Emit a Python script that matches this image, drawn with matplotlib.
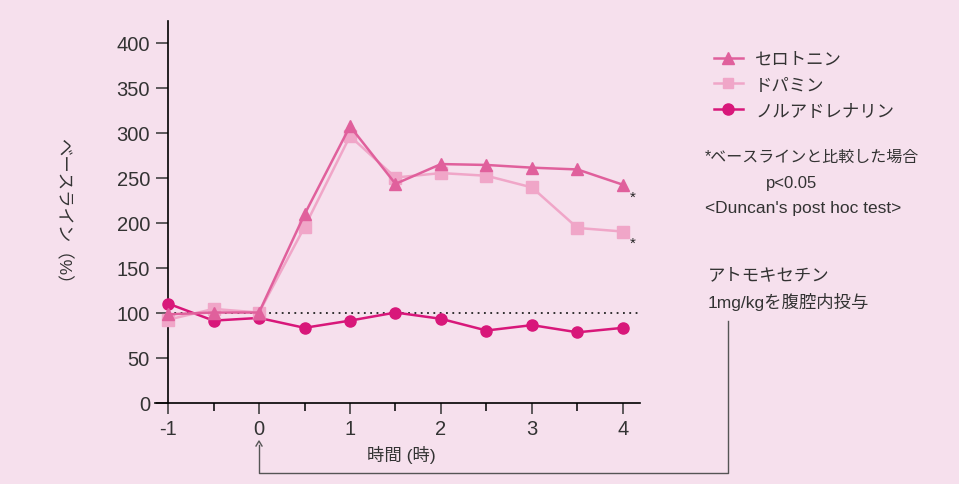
import numpy as np
import matplotlib.pyplot as plt
from matplotlib.lines import Line2D
from matplotlib.ticker import MultipleLocator

plt.rcParams['font.family'] = ['Liberation Sans', 'Noto Sans CJK JP']
plt.rcParams['axes.unicode_minus'] = False

# data
hours = [-1, -0.5, 0, 0.5, 1, 1.5, 2, 2.5, 3, 3.5, 4]
serotonin = [98, 100, 100, 209, 307, 243, 265, 264, 261, 259, 242]
dopamine = [92, 104, 100, 195, 296, 250, 255, 252, 239, 194, 190]
noradrenaline = [110, 91, 94, 83, 91, 100, 93, 80, 86, 78, 83]
labels = ['セロトニン', 'ドパミン', 'ノルアドレナリン']
yticks = [0, 50, 100, 150, 200, 250, 300, 350, 400]
xticks = [-1, 0, 1, 2, 3, 4]

bg = '#f6e0ed'
c_ser = '#e0609c'
c_dop = '#f0a6c8'
c_nor = '#d8177a'
txt = '#333333'

W, H = 959, 485
fig = plt.figure(figsize=(W / 100, H / 100), dpi=100, facecolor=bg)

def fx(px):
    return px / W

def fy(py):
    return 1 - py / H

ax = fig.add_axes([fx(155), fy(403.5), fx(640) - fx(155), fy(22) - fy(403.5)])
ax.set_facecolor(bg)
ax.set_xlim(-1.143, 4.187)
ax.set_ylim(0, 424)

for s in ['top', 'right']:
    ax.spines[s].set_visible(False)
ax.spines['left'].set_position(('data', -1))
ax.spines['left'].set_linewidth(1.2)
ax.spines['bottom'].set_linewidth(1.2)

ax.set_yticks(yticks)
ax.set_xticks(xticks)
ax.xaxis.set_minor_locator(MultipleLocator(0.5))
ax.tick_params(axis='y', direction='out', length=9, width=1.1, labelsize=14.5, pad=4, colors=txt)
ax.tick_params(axis='x', which='major', direction='out', length=8, width=1.1, labelsize=14.5, pad=4, colors=txt)
ax.tick_params(axis='x', which='minor', direction='out', length=6, width=1.1)

# baseline
x0, x1 = ax.get_xlim()
ax.axhline(100, xmin=(-1 - x0) / (x1 - x0), xmax=1, color='#222222', ls=(0, (1, 2.5)), lw=1.3, zorder=1)

ax.plot(hours, noradrenaline, color=c_nor, marker='o', ms=8, lw=1.8, label=labels[2], zorder=3)
ax.plot(hours, dopamine, color=c_dop, marker='s', ms=8, lw=1.8, label=labels[1], zorder=4)
ax.plot(hours, serotonin, color=c_ser, marker='^', ms=8.5, lw=1.8, label=labels[0], zorder=5)

# significance stars
ax.annotate('*', (hours[-1], serotonin[-1]), xytext=(10, -12), textcoords='offset pixels',
            ha='center', va='center', fontsize=11, color='#222222')
ax.annotate('*', (hours[-1], dopamine[-1]), xytext=(10, -11), textcoords='offset pixels',
            ha='center', va='center', fontsize=11, color='#222222')

fig.text(fx(63), fy(215), 'ベースライン（%）', rotation=270, ha='center', va='center',
         fontsize=12.5, color=txt)
fig.text(fx(401), fy(455), '時間 (時)', ha='center', va='center', fontsize=12.5, color=txt)

handles = [Line2D([], [], color=c_ser, marker='^', ms=8, lw=1.8),
           Line2D([], [], color=c_dop, marker='s', ms=7.5, lw=1.8),
           Line2D([], [], color=c_nor, marker='o', ms=8, lw=1.8)]
fig.legend(handles, labels, loc='upper left', bbox_to_anchor=(fx(698), fy(37)), frameon=False,
           fontsize=12.5, handlelength=1.7, handletextpad=0.7, labelspacing=0.6,
           labelcolor=txt)

fig.text(fx(705), fy(157), '*ベースラインと比較した場合', ha='left', va='center', fontsize=11.5, color=txt)
fig.text(fx(792), fy(184), 'p<0.05', ha='center', va='center', fontsize=12, color=txt)
fig.text(fx(705), fy(208), '<Duncan\'s post hoc test>', ha='left', va='center', fontsize=12.5, color=txt)
fig.text(fx(708), fy(276), 'アトモキセチン', ha='left', va='center', fontsize=12.5, color=txt)
fig.text(fx(708), fy(302), '1mg/kgを腹腔内投与', ha='left', va='center', fontsize=12.5, color=txt)

# bracket from dosing label to t=0
ax0_px = ax.transData.transform((0, 0))[0]
fig.add_artist(Line2D([fx(ax0_px), fx(ax0_px), fx(728), fx(728)],
                      [fy(446), fy(474), fy(474), fy(322)],
                      color='#555555', lw=1.0))
fig.add_artist(Line2D([fx(ax0_px) - fx(3), fx(ax0_px), fx(ax0_px) + fx(3)],
                      [fy(447), fy(442), fy(447)], color='#555555', lw=1.0))

fig.savefig('out.png', dpi=100, facecolor=bg)
